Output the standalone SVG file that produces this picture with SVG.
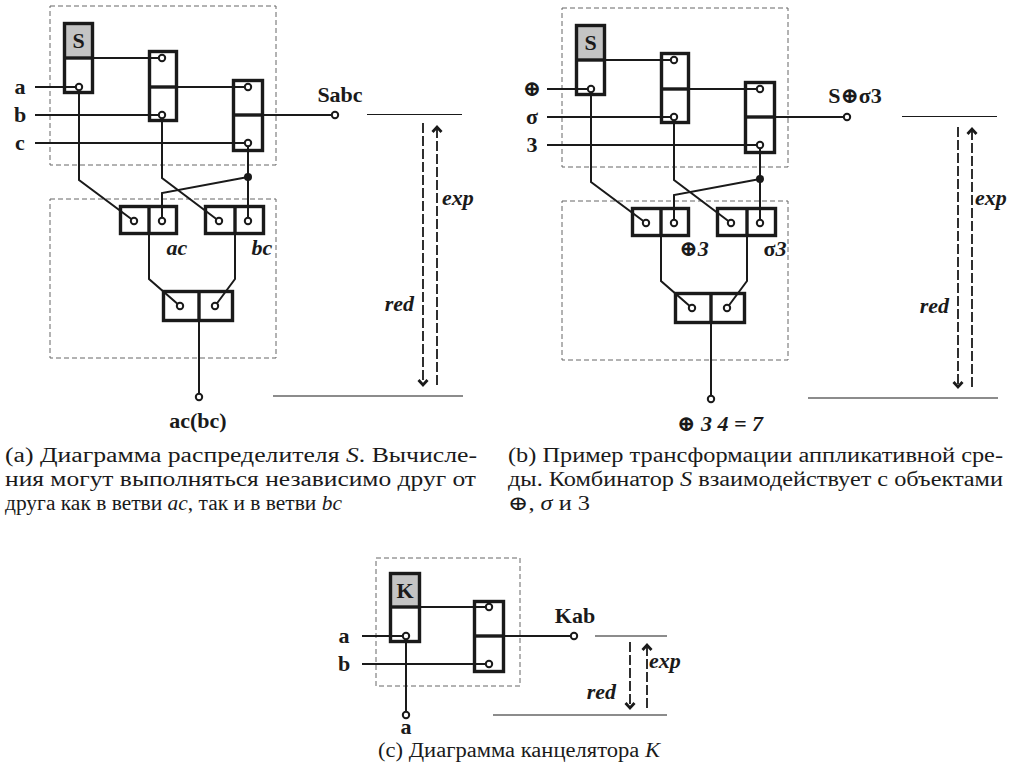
<svg xmlns="http://www.w3.org/2000/svg" width="1013" height="776" viewBox="0 0 1013 776" font-family="'Liberation Serif', Tinos, 'Times New Roman', 'DejaVu Serif', 'Noto Serif', serif">
<style>
text{font-family:'Liberation Serif', Tinos, 'Times New Roman', 'DejaVu Serif', 'Noto Serif', serif;fill:#1a1a1a}
.lbl{font-size:22px;font-weight:bold}
.lbli{font-size:22px;font-weight:bold;font-style:italic}
.cap{font-size:20px}
.it{font-style:italic}
.box{fill:none;stroke:#666;stroke-width:1;stroke-dasharray:5 3}
.blk{fill:none;stroke:#1a1a1a;stroke-width:3.4}
.grey{fill:#c4c4c4}
.w{fill:none;stroke:#1a1a1a;stroke-width:2}
.pin{fill:#fff;stroke:#1a1a1a;stroke-width:2}
.dot{fill:#1a1a1a}
.ref{stroke:#1a1a1a;stroke-width:1.2}
.da{fill:none;stroke:#1a1a1a;stroke-width:1.8;stroke-dasharray:10 3}
</style>
<defs>
<marker id="chev" markerUnits="userSpaceOnUse" markerWidth="12" markerHeight="12" refX="8" refY="6" orient="auto" viewBox="0 0 12 12">
<path d="M3,1.5 L8,6 L3,10.5" fill="none" stroke="#1a1a1a" stroke-width="2.8" stroke-dasharray="none"/>
</marker>
</defs>

<!-- ===================== (a) ===================== -->
<g id="diagA">
<rect class="box" x="50" y="6" width="226" height="159"/>
<rect class="box" x="50" y="199" width="226" height="159"/>
<g id="a-connectors">
<path class="w" d="M35,87 H79 M35,115 H162 M35,143 H248 M94,58 H162 M178,87 H248 M264,115 H335"/>
<path class="w" d="M79,87 V180 L134,221 M162,115 V178 L219,221 M248,143 V221 M248,177 L162,193 V221"/>
<path class="w" d="M149,235 V279 L180,306 M235,235 V279 L215,306 M199,322 V397"/>
</g>
<g id="a-S">
<rect class="grey" x="64.5" y="23.5" width="28" height="34.5"/>
<rect class="blk" x="64.5" y="23.5" width="28" height="69"/>
<line class="blk" x1="64.5" y1="58" x2="92.5" y2="58"/>
<text class="lbl" x="78.5" y="48" text-anchor="middle" font-size="22">S</text>
</g>
<g id="a-B2">
<rect class="blk" x="149.5" y="51.5" width="27" height="69"/>
<line class="blk" x1="149.5" y1="87" x2="176.5" y2="87"/>
</g>
<g id="a-B3">
<rect class="blk" x="233.5" y="80.5" width="29" height="70"/>
<line class="blk" x1="233.5" y1="115" x2="262.5" y2="115"/>
</g>
<g id="a-ac">
<rect class="blk" x="120.5" y="206.5" width="56" height="27"/>
<line class="blk" x1="149" y1="206.5" x2="149" y2="233.5"/>
</g>
<g id="a-bc">
<rect class="blk" x="205.5" y="206.5" width="58" height="27"/>
<line class="blk" x1="235" y1="206.5" x2="235" y2="233.5"/>
</g>
<g id="a-out">
<rect class="blk" x="163.5" y="291.5" width="69" height="29"/>
<line class="blk" x1="199" y1="291.5" x2="199" y2="320.5"/>
</g>
<g id="a-pins">
<circle class="pin" cx="79" cy="87" r="3.2"/>
<circle class="pin" cx="162" cy="58" r="3.2"/>
<circle class="pin" cx="162" cy="115" r="3.2"/>
<circle class="pin" cx="248" cy="87" r="3.2"/>
<circle class="pin" cx="248" cy="143" r="3.2"/>
<circle class="pin" cx="335" cy="115" r="3.2"/>
<circle class="pin" cx="134" cy="221" r="3.2"/>
<circle class="pin" cx="162" cy="221" r="3.2"/>
<circle class="pin" cx="219" cy="221" r="3.2"/>
<circle class="pin" cx="248" cy="221" r="3.2"/>
<circle class="pin" cx="180" cy="306" r="3.2"/>
<circle class="pin" cx="215" cy="306" r="3.2"/>
<circle class="pin" cx="199" cy="397" r="3.2"/>
<circle class="dot" cx="248" cy="177" r="4"/>
</g>
<text class="lbl" x="20" y="94" text-anchor="middle">a</text>
<text class="lbl" x="20" y="122" text-anchor="middle">b</text>
<text class="lbl" x="20" y="150" text-anchor="middle">c</text>
<text class="lbl" x="340" y="102" text-anchor="middle">Sabc</text>
<text class="lbli" x="177" y="255" text-anchor="middle">ac</text>
<text class="lbli" x="262" y="255" text-anchor="middle">bc</text>
<text class="lbl" x="198" y="428" text-anchor="middle">ac(bc)</text>
<g id="a-levels">
<line class="ref" x1="367" y1="114.5" x2="462" y2="114.5"/>
<line class="ref" x1="273" y1="396" x2="463" y2="396"/>
<line class="da" x1="423" y1="123" x2="423" y2="385" marker-end="url(#chev)"/>
<line class="da" x1="437" y1="385" x2="437" y2="127" marker-end="url(#chev)"/>
<text class="lbli" x="442" y="205">exp</text>
<text class="lbli" x="414" y="311" text-anchor="end">red</text>
</g>
</g>

<!-- ===================== (b) ===================== -->
<g id="diagB">
<g transform="translate(512,2)">
<rect class="box" x="50" y="6" width="226" height="159"/>
<rect class="box" x="50" y="199" width="226" height="159"/>
<g id="b-connectors">
<path class="w" d="M35,87 H79 M35,115 H162 M35,143 H248 M94,58 H162 M178,87 H248 M264,115 H335"/>
<path class="w" d="M79,87 V180 L134,221 M162,115 V178 L219,221 M248,143 V221 M248,177 L162,193 V221"/>
<path class="w" d="M149,235 V279 L180,306 M235,235 V279 L215,306 M199,322 V397"/>
</g>
<g id="b-S">
<rect class="grey" x="64.5" y="23.5" width="28" height="34.5"/>
<rect class="blk" x="64.5" y="23.5" width="28" height="69"/>
<line class="blk" x1="64.5" y1="58" x2="92.5" y2="58"/>
<text class="lbl" x="78.5" y="48" text-anchor="middle" font-size="22">S</text>
</g>
<g id="b-B2">
<rect class="blk" x="149.5" y="51.5" width="27" height="69"/>
<line class="blk" x1="149.5" y1="87" x2="176.5" y2="87"/>
</g>
<g id="b-B3">
<rect class="blk" x="233.5" y="80.5" width="29" height="70"/>
<line class="blk" x1="233.5" y1="115" x2="262.5" y2="115"/>
</g>
<g id="b-plus3">
<rect class="blk" x="120.5" y="206.5" width="56" height="27"/>
<line class="blk" x1="149" y1="206.5" x2="149" y2="233.5"/>
</g>
<g id="b-sigma3">
<rect class="blk" x="205.5" y="206.5" width="58" height="27"/>
<line class="blk" x1="235" y1="206.5" x2="235" y2="233.5"/>
</g>
<g id="b-out">
<rect class="blk" x="163.5" y="291.5" width="69" height="29"/>
<line class="blk" x1="199" y1="291.5" x2="199" y2="320.5"/>
</g>
<g id="b-pins">
<circle class="pin" cx="79" cy="87" r="3.2"/>
<circle class="pin" cx="162" cy="58" r="3.2"/>
<circle class="pin" cx="162" cy="115" r="3.2"/>
<circle class="pin" cx="248" cy="87" r="3.2"/>
<circle class="pin" cx="248" cy="143" r="3.2"/>
<circle class="pin" cx="335" cy="115" r="3.2"/>
<circle class="pin" cx="134" cy="221" r="3.2"/>
<circle class="pin" cx="162" cy="221" r="3.2"/>
<circle class="pin" cx="219" cy="221" r="3.2"/>
<circle class="pin" cx="248" cy="221" r="3.2"/>
<circle class="pin" cx="180" cy="306" r="3.2"/>
<circle class="pin" cx="215" cy="306" r="3.2"/>
<circle class="pin" cx="199" cy="397" r="3.2"/>
<circle class="dot" cx="248" cy="177" r="4"/>
</g>
<text class="lbl" x="20" y="94" text-anchor="middle">⊕</text>
<text class="lbl" x="20" y="122" text-anchor="middle">σ</text>
<text class="lbl" x="20" y="150" text-anchor="middle">3</text>
<text class="lbl" x="343" y="101" text-anchor="middle">S⊕σ3</text>
<text class="lbl" x="182" y="254" text-anchor="middle">⊕<tspan class="it">3</tspan></text>
<text class="lbl" x="263" y="254" text-anchor="middle">σ<tspan class="it">3</tspan></text>
<text class="lbl" x="208" y="429" text-anchor="middle">⊕ <tspan class="it">3 4 = 7</tspan></text>
</g>
<g id="b-levels" transform="translate(535,2)">
<line class="ref" x1="367" y1="114.5" x2="462" y2="114.5"/>
<line class="ref" x1="273" y1="396" x2="463" y2="396"/>
<line class="da" x1="423" y1="125" x2="423" y2="385" marker-end="url(#chev)"/>
<line class="da" x1="437" y1="385" x2="437" y2="127" marker-end="url(#chev)"/>
<text class="lbli" x="440" y="203">exp</text>
<text class="lbli" x="414" y="311" text-anchor="end">red</text>
</g>
</g>

<!-- ===================== (c) ===================== -->
<g id="diagC">
<rect class="box" x="376" y="558" width="144" height="128"/>
<g id="c-connectors">
<path class="w" d="M421,607 H489 M362,636 H406 M362,664 H489 M505,636 H574 M406,636 V715"/>
</g>
<g id="c-K">
<rect class="grey" x="390.5" y="573.5" width="29" height="33.5"/>
<rect class="blk" x="390.5" y="573.5" width="29" height="68"/>
<line class="blk" x1="390.5" y1="607" x2="419.5" y2="607"/>
<text class="lbl" x="405" y="598" text-anchor="middle" font-size="22">K</text>
</g>
<g id="c-B2">
<rect class="blk" x="474.5" y="601.5" width="29" height="70"/>
<line class="blk" x1="474.5" y1="636" x2="503.5" y2="636"/>
</g>
<g id="c-pins">
<circle class="pin" cx="406" cy="636" r="3.2"/>
<circle class="pin" cx="489" cy="607" r="3.2"/>
<circle class="pin" cx="489" cy="664" r="3.2"/>
<circle class="pin" cx="574" cy="636" r="3.2"/>
<circle class="pin" cx="406" cy="715" r="3.2"/>
</g>
<text class="lbl" x="344" y="643" text-anchor="middle">a</text>
<text class="lbl" x="344" y="671" text-anchor="middle">b</text>
<text class="lbl" x="406" y="734" text-anchor="middle">a</text>
<text class="lbl" x="575" y="623" text-anchor="middle">Kab</text>
<g id="c-levels">
<line class="ref" x1="595" y1="636" x2="667" y2="636"/>
<line class="ref" x1="493" y1="715" x2="667" y2="715"/>
<line class="da" x1="630" y1="642" x2="630" y2="708" marker-end="url(#chev)"/>
<line class="da" x1="647" y1="708" x2="647" y2="645" marker-end="url(#chev)"/>
<text class="lbli" x="649" y="668">exp</text>
<text class="lbli" x="616" y="699" text-anchor="end">red</text>
</g>
</g>

<!-- captions -->
<g id="captions">
<text class="cap" x="5" y="462" textLength="472" lengthAdjust="spacingAndGlyphs">(a) Диаграмма распределителя <tspan class="it">S</tspan>. Вычисле-</text>
<text class="cap" x="5" y="486" textLength="471" lengthAdjust="spacingAndGlyphs">ния могут выполняться независимо друг от</text>
<text class="cap" x="5" y="510" textLength="337" lengthAdjust="spacingAndGlyphs">друга как в ветви <tspan class="it">ac</tspan>, так и в ветви <tspan class="it">bc</tspan></text>
<text class="cap" x="508" y="462" textLength="495" lengthAdjust="spacingAndGlyphs">(b) Пример трансформации аппликативной сре-</text>
<text class="cap" x="508" y="486" textLength="495" lengthAdjust="spacingAndGlyphs">ды. Комбинатор <tspan class="it">S</tspan> взаимодействует с объектами</text>
<text class="cap" x="508" y="510" textLength="82" lengthAdjust="spacingAndGlyphs">⊕, <tspan class="it">σ</tspan> и 3</text>
<text class="cap" x="378" y="757" textLength="282" lengthAdjust="spacingAndGlyphs">(c) Диаграмма канцелятора <tspan class="it">K</tspan></text>
</g>
</svg>
